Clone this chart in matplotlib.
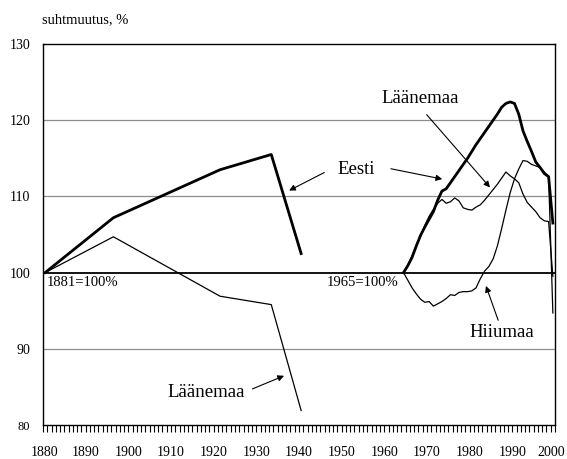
import matplotlib
matplotlib.use("Agg")
import matplotlib.pyplot as plt
import matplotlib.transforms as mtransforms
import numpy as np

plt.rcParams['font.family'] = ['Liberation Serif', 'DejaVu Serif']

# Census-based series (1881 = 100%)
years_old = [1881, 1897, 1922, 1934, 1941]
eesti_old = [100.0, 107.2, 113.5, 115.5, 102.5]
laanemaa_old = [100.0, 104.7, 96.9, 95.8, 81.9]

# Annual series (1965 = 100%)
years_new = list(range(1965, 2001))
eesti_new = [100.0, 100.9, 102.0, 103.5, 104.9, 106.0, 107.0, 108.0, 109.5, 110.7,
             111.0, 111.8, 112.6, 113.4, 114.2, 115.0, 115.9, 116.8, 117.6, 118.4,
             119.2, 120.0, 120.8, 121.7, 122.2, 122.4, 122.2, 120.8, 118.6, 117.2,
             115.9, 114.5, 113.8, 113.0, 112.6, 106.5]
laanemaa_new = [100.0, 101.0, 102.2, 103.6, 104.8, 106.2, 107.4, 108.3, 109.1, 109.6,
                109.1, 109.3, 109.8, 109.4, 108.5, 108.3, 108.2, 108.6, 108.9, 109.5,
                110.2, 110.9, 111.6, 112.4, 113.2, 112.7, 112.3, 111.8, 110.3, 109.2,
                108.6, 108.0, 107.2, 106.8, 106.7, 99.5]
hiiumaa_new = [100.0, 99.0, 98.0, 97.2, 96.5, 96.1, 96.2, 95.6, 95.9, 96.2,
               96.6, 97.1, 97.0, 97.4, 97.5, 97.5, 97.6, 98.0, 99.2, 100.2,
               100.8, 101.8, 103.5, 105.8, 108.2, 110.5, 112.3, 113.6, 114.7, 114.6,
               114.2, 114.0, 113.8, 113.2, 112.6, 94.7]

xtick_labels = [str(y) for y in range(1880, 2001, 10)]
ytick_values = [80, 90, 100, 110, 120, 130]

# years are drawn centred in their category slot
off = -0.5
fig = plt.figure(figsize=(5.67, 4.59), dpi=100)
ax = fig.add_axes([43/567, 1 - 425/459, (555-43)/567, (425-44)/459])

for g in [90, 110, 120]:
    ax.axhline(g, color='#8c8c8c', lw=0.9, zorder=1)
ax.axhline(100, color='black', lw=1.3, zorder=1)

ax.plot(np.array(years_old) + off, eesti_old, color='black', lw=2.0, zorder=3)
ax.plot(np.array(years_old) + off, laanemaa_old, color='black', lw=0.9, zorder=3)
ax.plot(np.array(years_new) + off, laanemaa_new, color='black', lw=0.9, zorder=3)
ax.plot(np.array(years_new) + off, hiiumaa_new, color='black', lw=0.9, zorder=3)
ax.plot(np.array(years_new) + off, eesti_new, color='black', lw=2.0, zorder=4)

ax.set_xlim(1880, 2000)
ax.set_ylim(80, 130)
ax.set_xticks(np.arange(1880, 2001, 10))
ax.set_xticklabels(xtick_labels, fontsize=10)
ax.set_xticks(np.arange(1880, 2001, 1), minor=True)
ax.tick_params(axis='x', which='both', direction='out', length=5, width=0.8, pad=10)
ax.set_yticks(ytick_values)
ax.set_yticklabels([str(v) for v in ytick_values], fontsize=10)
ax.get_yticklabels()[0].set_fontsize(9)
ax.tick_params(axis='y', length=0, pad=9)
for s in ax.spines.values():
    s.set_linewidth(1.0)

# keep the last year label inside the canvas
last = ax.get_xticklabels()[-1]
last.set_transform(last.get_transform() +
                   mtransforms.ScaledTranslation(-4/100, 0, fig.dpi_scale_trans))
first = ax.get_xticklabels()[0]
first.set_transform(first.get_transform() +
                    mtransforms.ScaledTranslation(2/100, 0, fig.dpi_scale_trans))

fig.text(42/567, 1 - 20/459, 'suhtmuutus, %', fontsize=10.5, ha='left', va='center')

ax.text(1880.9, 98.7, '1881=100%', fontsize=10.5, ha='left', va='center')
ax.text(1946.6, 98.7, '1965=100%', fontsize=10.5, ha='left', va='center')

arrow = dict(arrowstyle='-|>', color='black', lw=0.8, mutation_scale=9)
ax.text(1953.4, 113.5, 'Eesti', fontsize=13.5, ha='center', va='center')
ax.annotate('', xy=(1937.1, 110.6), xytext=(1946.5, 113.3), arrowprops=arrow)
ax.annotate('', xy=(1974.2, 112.2), xytext=(1960.9, 113.7), arrowprops=arrow)

ax.text(1968.4, 122.9, 'Läänemaa', fontsize=13.5, ha='center', va='center')
ax.annotate('', xy=(1985.2, 110.9), xytext=(1969.5, 121.0), arrowprops=arrow)

ax.text(1987.5, 92.1, 'Hiiumaa', fontsize=13.5, ha='center', va='center')
ax.annotate('', xy=(1983.6, 98.6), xytext=(1986.9, 93.4), arrowprops=arrow)

ax.text(1918.2, 84.3, 'Läänemaa', fontsize=13.5, ha='center', va='center')
ax.annotate('', xy=(1937.1, 86.6), xytext=(1928.5, 84.6), arrowprops=arrow)

fig.savefig('out.png', dpi=100)
